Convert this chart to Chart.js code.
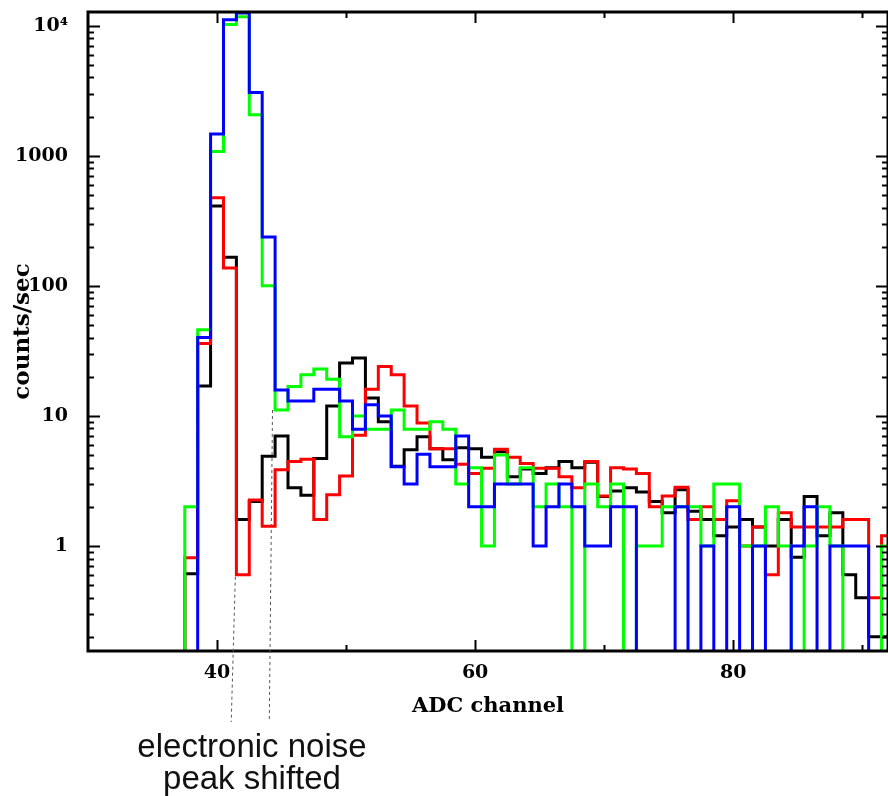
<!DOCTYPE html>
<html>
<head>
<meta charset="utf-8">
<script src="https://cdn.jsdelivr.net/npm/chart.js@4/dist/chart.umd.min.js"></script>
<style>
  html, body { margin: 0; padding: 0; background: #ffffff; }
  #wrap { position: relative; width: 888px; height: 796px; }
</style>
</head>
<body>
<div id="wrap"><canvas id="c"></canvas></div>
<script>
// ---- data ----
const channels = [37, 38, 39, 40, 41, 42, 43, 44, 45, 46, 47, 48, 49, 50, 51, 52, 53, 54, 55, 56,
                  57, 58, 59, 60, 61, 62, 63, 64, 65, 66, 67, 68, 69, 70, 71, 72, 73, 74, 75, 76,
                  77, 78, 79, 80, 81, 82, 83, 84, 85, 86, 87, 88, 89, 90, 91, 92];

const blackCounts = [0, 0.61, 17, 410, 166, 1.6, 2.2, 4.9, 7.0, 2.8, 2.45, 4.7, 11.9, 25.5, 27.8, 13.7, 9.0, 4.1, 5.5, 6.9,
                     5.6, 4.6, 5.7, 5.6, 4.8, 5.3, 3.4, 3.9, 3.6, 4.0, 4.45, 4.0, 4.4, 2.4, 2.65, 2.8, 2.6, 2.2, 1.8, 2.7,
                     1.85, 1.6, 1.2, 1.4, 1.6, 1.4, 1.0, 1.6, 0.82, 2.4, 1.2, 1.8, 0.6, 0.4, 0.2, 0.2];

const redCounts = [0, 0.81, 36, 475, 137, 0.6, 2.26, 1.42, 3.85, 4.45, 4.65, 1.6, 2.47, 3.45, 7.1, 16, 24, 20.7, 11.9, 8.8,
                   5.6, 5.6, 4.25, 3.6, 3.96, 5.55, 4.8, 4.3, 3.96, 3.96, 3.4, 2.8, 4.45, 2.42, 4.0, 3.9, 3.6, 2.0, 2.42, 2.83,
                   1.6, 2.0, 1.6, 2.23, 1.0, 1.4, 0.6, 1.8, 1.4, 1.4, 1.4, 1.4, 1.6, 1.6, 0.4, 1.2];

const greenCounts = [0, 2.0, 46, 1080, 10200, 11700, 2070, 100, 11.1, 16.8, 20.7, 22.9, 19.1, 6.9, 10, 7.9, 7.9, 11.1, 7.9, 7.9,
                     9.0, 7.9, 3.0, 4.0, 1.0, 5.0, 3.0, 4.0, 2.0, 3.0, 2.0, 0, 3.0, 2.0, 3.0, 0, 1.0, 1.0, 2.0, 2.0,
                     2.0, 1.0, 3.0, 3.0, 1.0, 1.0, 2.0, 1.0, 0, 1.0, 2.0, 1.0, 0, 0, 0, 1.0];

const blueCounts = [0, 0, 40, 1470, 11100, 12500, 3070, 237, 15.8, 13, 13, 16, 16, 13, 7.9, 12.2, 10, 4.07, 3.0, 5.07,
                    4.07, 4.07, 7.0, 2.0, 2.0, 3.0, 3.0, 3.0, 1.0, 2.0, 3.0, 2.0, 1.0, 1.0, 2.0, 2.0, 0, 0, 0, 2.0,
                    0, 1.0, 0, 2.0, 0, 1.0, 0, 0, 1.0, 2.0, 0, 1.0, 1.0, 1.0, 0, 0];

const yTickValues = [1, 10, 100, 1000, 10000];
const yTickLabels = ['1', '10', '100', '1000', '10\u2074'];
const xTickValues = [40, 60, 80];
const xMinorTickValues = [50, 70, 90];
const xAxisTitle = 'ADC channel';
const yAxisTitle = 'counts/sec';
const noteText = ['electronic noise', 'peak shifted'];
// annotation anchors: [channel at top, count at top, channel at bottom]
const noteLeaders = [[41.42, 0.58, 41.1], [44.3, 11.1, 44.05]];

// ---- helpers ----
const FLOOR = 0.01; // empty bins are drawn below the visible range
function toSteps(vals) {
  const pts = channels.map((c, i) => ({ x: c - 0.5, y: vals[i] > 0 ? vals[i] : FLOOR }));
  const last = vals[vals.length - 1];
  pts.push({ x: channels[channels.length - 1] + 0.5, y: last > 0 ? last : FLOOR });
  return pts;
}

const tickFont = { family: 'DejaVu Serif', weight: 'bold', size: 19 };

const framePlugin = {
  id: 'frameTicks',
  afterDatasetsDraw(chart) {
    const { ctx, chartArea: a, scales: { x, y } } = chart;
    ctx.save();
    ctx.strokeStyle = '#000';
    ctx.lineCap = 'butt';
    // frame
    ctx.lineWidth = 3;
    ctx.beginPath();
    ctx.moveTo(a.left, a.bottom); ctx.lineTo(a.right, a.bottom);
    ctx.moveTo(a.left, a.top); ctx.lineTo(a.right, a.top);
    ctx.moveTo(a.left, a.top - 1.5); ctx.lineTo(a.left, a.bottom + 1.5);
    ctx.moveTo(a.right, a.top - 1.5); ctx.lineTo(a.right, a.bottom + 1.5);
    ctx.stroke();
    // y ticks (inward, both sides)
    ctx.lineWidth = 2;
    ctx.beginPath();
    for (let d = -1; d <= 4; d++) {
      for (let m = 1; m <= 9; m++) {
        const v = m * Math.pow(10, d);
        if (v < y.min || v > y.max) continue;
        const py = Math.round(y.getPixelForValue(v)) + 0.5;
        const len = m === 1 ? 12 : 6;
        ctx.moveTo(a.left, py); ctx.lineTo(a.left + len, py);
        ctx.moveTo(a.right, py); ctx.lineTo(a.right - len, py);
      }
    }
    // x ticks (inward, top and bottom)
    xTickValues.forEach(v => {
      const px = Math.round(x.getPixelForValue(v)) + 0.5;
      ctx.moveTo(px, a.bottom); ctx.lineTo(px, a.bottom - 11);
      ctx.moveTo(px, a.top); ctx.lineTo(px, a.top + 11);
    });
    xMinorTickValues.forEach(v => {
      const px = Math.round(x.getPixelForValue(v)) + 0.5;
      ctx.moveTo(px, a.bottom); ctx.lineTo(px, a.bottom - 6);
      ctx.moveTo(px, a.top); ctx.lineTo(px, a.top + 6);
    });
    ctx.stroke();
    ctx.restore();
  },
  afterDraw(chart) {
    const { ctx, scales: { x, y } } = chart;
    ctx.save();
    // dotted leader lines
    ctx.strokeStyle = '#555';
    ctx.lineWidth = 1;
    ctx.setLineDash([3, 3]);
    ctx.beginPath();
    noteLeaders.forEach(([cx0, v0, cx1]) => {
      ctx.moveTo(x.getPixelForValue(cx0), y.getPixelForValue(v0));
      ctx.lineTo(x.getPixelForValue(cx1), 722);
    });
    ctx.stroke();
    ctx.setLineDash([]);
    // note text
    ctx.fillStyle = '#111';
    ctx.font = '33px "Liberation Sans", Arial, sans-serif';
    ctx.textAlign = 'center';
    ctx.textBaseline = 'alphabetic';
    ctx.fillText(noteText[0], 252, 757);
    ctx.fillText(noteText[1], 252, 789);
    ctx.restore();
  }
};

new Chart(document.getElementById('c'), {
  type: 'line',
  data: {
    datasets: [
      { label: 'blue', data: toSteps(blueCounts), borderColor: '#0000ff', order: 1 },
      { label: 'green', data: toSteps(greenCounts), borderColor: '#00ff00', order: 2 },
      { label: 'red', data: toSteps(redCounts), borderColor: '#ff0000', order: 3 },
      { label: 'black', data: toSteps(blackCounts), borderColor: '#000000', order: 4 }
    ].map(ds => Object.assign(ds, {
      stepped: 'before', borderWidth: 3, pointRadius: 0, fill: false,
      tension: 0, borderJoinStyle: 'miter', borderCapStyle: 'butt'
    }))
  },
  options: {
    responsive: true,
    maintainAspectRatio: false,
    animation: false,
    devicePixelRatio: 1,
    layout: { padding: { top: 12, right: 0, bottom: 0, left: 0 } },
    plugins: { legend: { display: false }, tooltip: { enabled: false } },
    scales: {
      x: {
        type: 'linear', min: 30, max: 92,
        grid: { display: false, drawTicks: false },
        border: { display: false },
        afterBuildTicks: s => { s.ticks = xTickValues.map(v => ({ value: v })); },
        afterFit: s => { s.height = 145; s.paddingLeft = 0; s.paddingRight = 0; },
        ticks: { autoSkip: false, maxRotation: 0, padding: 11, color: '#000', font: tickFont,
                 callback: v => String(v) },
        title: { display: true, text: xAxisTitle, color: '#000',
                 font: { family: 'DejaVu Serif', weight: 'bold', size: 21 },
                 padding: { top: 0, bottom: 77 } }
      },
      y: {
        type: 'logarithmic', min: 0.1557, max: 12740,
        grid: { display: false, drawTicks: false },
        border: { display: false },
        afterBuildTicks: s => { s.ticks = yTickValues.map(v => ({ value: v })); },
        afterFit: s => { s.width = 88; s.paddingTop = 0; s.paddingBottom = 0; },
        ticks: { autoSkip: false, padding: 20, color: '#000', font: tickFont,
                 callback: v => { const i = yTickValues.indexOf(v); return i >= 0 ? yTickLabels[i] : ''; } },
        title: { display: true, text: yAxisTitle, color: '#000',
                 font: { family: 'DejaVu Serif', weight: 'bold', size: 23 },
                 padding: { top: 9, bottom: 0 } }
      }
    }
  },
  plugins: [framePlugin]
});
</script>
</body>
</html>
